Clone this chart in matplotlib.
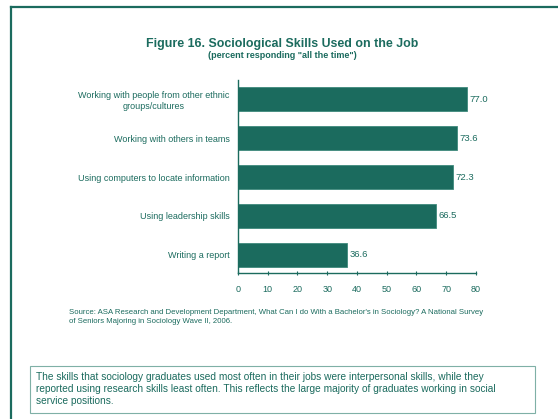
import matplotlib.pyplot as plt
from matplotlib.patches import Rectangle
from matplotlib.lines import Line2D

TEAL = "#1b6b5e"

skills = [
    "Working with people from other ethnic\ngroups/cultures",
    "Working with others in teams",
    "Using computers to locate information",
    "Using leadership skills",
    "Writing a report",
]
percent = [77.0, 73.6, 72.3, 66.5, 36.6]
xticks = [0, 10, 20, 30, 40, 50, 60, 70, 80]

title = "Figure 16. Sociological Skills Used on the Job"
subtitle = "(percent responding \"all the time\")"
source = ("Source: ASA Research and Development Department, What Can I do With a Bachelor's in Sociology? A National Survey\n"
          "of Seniors Majoring in Sociology Wave II, 2006.")
note = ("The skills that sociology graduates used most often in their jobs were interpersonal skills, while they\n"
        "reported using research skills least often. This reflects the large majority of graduates working in social\n"
        "service positions.")

plt.rcParams["font.family"] = ["Liberation Sans", "DejaVu Sans"]

fig = plt.figure(figsize=(5.58, 4.19), dpi=100)
W, H = 558, 419

# page border (top and left edges)
fig.add_artist(Line2D([11 / W, 1], [1 - 7 / H, 1 - 7 / H], color=TEAL, lw=1.6, transform=fig.transFigure))
fig.add_artist(Line2D([11 / W, 11 / W], [0, 1 - 7 / H], color=TEAL, lw=1.6, transform=fig.transFigure))

ax = fig.add_axes([238 / W, 1 - 273 / H, 238 / W, 193 / H])
y = list(range(len(skills)))
ax.barh(y, percent, height=0.62, color=TEAL, edgecolor="#3f8a7c", linewidth=0.6)
for yi, v in zip(y, percent):
    ax.text(v + 0.8, yi, f"{v:.1f}", va="center", ha="left", fontsize=6.8, color=TEAL)

ax.set_xlim(0, 80)
ax.set_ylim(4.47, -0.5)
ax.set_xticks(xticks)
ax.set_xticklabels([str(t) for t in xticks], fontsize=6.5, color=TEAL)
ax.set_yticks(y)
ax.set_yticklabels(skills, fontsize=6.5, color=TEAL, multialignment="center")
ax.tick_params(axis="x", length=3, width=0.8, color=TEAL, direction="inout", pad=7)
ax.tick_params(axis="y", length=0, pad=6)
for side in ["top", "right"]:
    ax.spines[side].set_visible(False)
for side in ["left", "bottom"]:
    ax.spines[side].set_color(TEAL)
    ax.spines[side].set_linewidth(1.0)

fig.text(282 / W, 1 - 44 / H, title, ha="center", va="center", fontsize=8.9, fontweight="bold", color=TEAL)
fig.text(282 / W, 1 - 55 / H, subtitle, ha="center", va="center", fontsize=6.5, fontweight="bold", color=TEAL)
fig.text(69 / W, 1 - 317 / H, source, ha="left", va="center", fontsize=5.6, color=TEAL, linespacing=1.3)

fig.add_artist(Rectangle((30 / W, 1 - 413 / H), 505 / W, 47 / H, transform=fig.transFigure,
                         fill=False, edgecolor="#7fb0a6", lw=0.8))
fig.text(36 / W, 1 - 389 / H, note, ha="left", va="center", fontsize=7.3, color=TEAL, linespacing=1.3)

fig.savefig("out.png", dpi=100)
